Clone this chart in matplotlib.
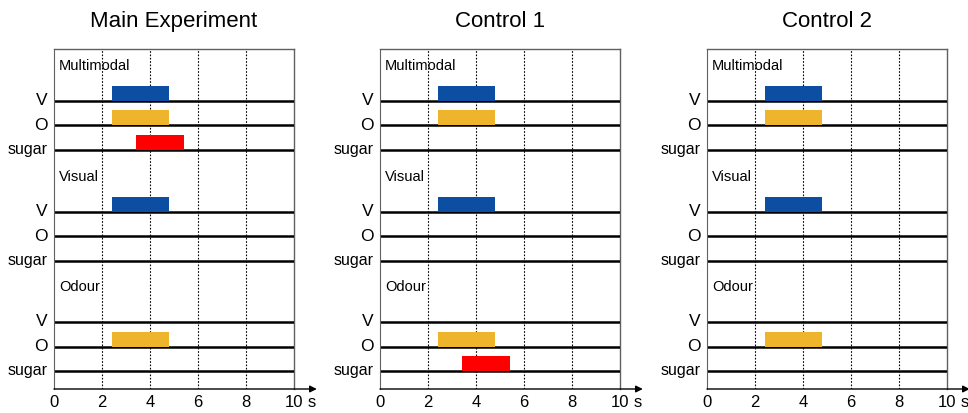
import matplotlib.pyplot as plt

plt.rcParams["font.family"] = ["Liberation Sans", "DejaVu Sans"]

titles = ["Main Experiment", "Control 1", "Control 2"]
groups = ["Multimodal", "Visual", "Odour"]
rows = ["V", "O", "sugar"]
row_colors = {"V": "#0b4ea2", "O": "#eeb42c", "sugar": "#ff0000"}

# stimulus windows (s): row -> (start, end)
stim_vo = (2.4, 4.8)
stim_sugar = (3.4, 5.4)

# per panel: group -> rows that carry a stimulus
panel_stimuli = [
    {"Multimodal": ["V", "O", "sugar"], "Visual": ["V"], "Odour": ["O"]},
    {"Multimodal": ["V", "O"], "Visual": ["V"], "Odour": ["O", "sugar"]},
    {"Multimodal": ["V", "O"], "Visual": ["V"], "Odour": ["O"]},
]
xticks = [0, 2, 4, 6, 8, 10]

fig = plt.figure(figsize=(9.68, 4.13), dpi=100)
lefts = [54 / 968, 380 / 968, 707 / 968]
group_base = [239, 128, 18]
row_offset = {"V": 49, "O": 24.5, "sugar": 0}
bar_h = 15
frame_c = "#606060"

for left, title, stim in zip(lefts, titles, panel_stimuli):
    ax = fig.add_axes([left, 24 / 413, 240 / 968, 340 / 413])
    ax.set_xlim(0, 10)
    ax.set_ylim(0, 340)
    for s in ["top", "right", "bottom"]:
        ax.spines[s].set_visible(False)
    ax.spines["left"].set_color(frame_c)
    ax.plot([0, 10], [340, 340], color=frame_c, lw=1, clip_on=False)
    ax.plot([10, 10], [0, 340], color=frame_c, lw=1, clip_on=False)
    ax.annotate("", xy=(10.95, 0), xytext=(0, 0), xycoords="data",
                arrowprops=dict(arrowstyle="-|>", color="black", lw=1, mutation_scale=10,
                                shrinkA=0, shrinkB=0), annotation_clip=False)
    for x in xticks[1:-1]:
        ax.plot([x, x], [0, 340], color="black", lw=0.8, ls=(0, (1.5, 1.5)), zorder=1)
    ax.set_xticks(xticks)
    ax.set_xticklabels([str(t) for t in xticks], fontsize=12)
    ax.tick_params(axis="x", length=0, pad=4)
    ax.set_yticks([])
    ax.annotate("s", xy=(10.72, 0), xycoords=("data", "axes fraction"),
                xytext=(0, -4), textcoords="offset points",
                fontsize=12, ha="center", va="top", annotation_clip=False)
    ax.set_title(title, fontsize=16, pad=16)

    for g, base in zip(groups, group_base):
        ax.text(0.2, base + 84, g, fontsize=10.5, va="center", ha="left", zorder=4)
        for r in rows:
            y = base + row_offset[r]
            if r in stim.get(g, []):
                x0, x1 = stim_sugar if r == "sugar" else stim_vo
                ax.bar(x0, bar_h, width=x1 - x0, bottom=y, align="edge",
                       color=row_colors[r], zorder=3)
            ax.plot([0, 10], [y, y], color="black", lw=1.8, zorder=2)
            ax.text(-0.25, y, r, fontsize=12.5 if r != "sugar" else 11.5,
                    ha="right", va="center")

fig.savefig("out.png", dpi=100)
